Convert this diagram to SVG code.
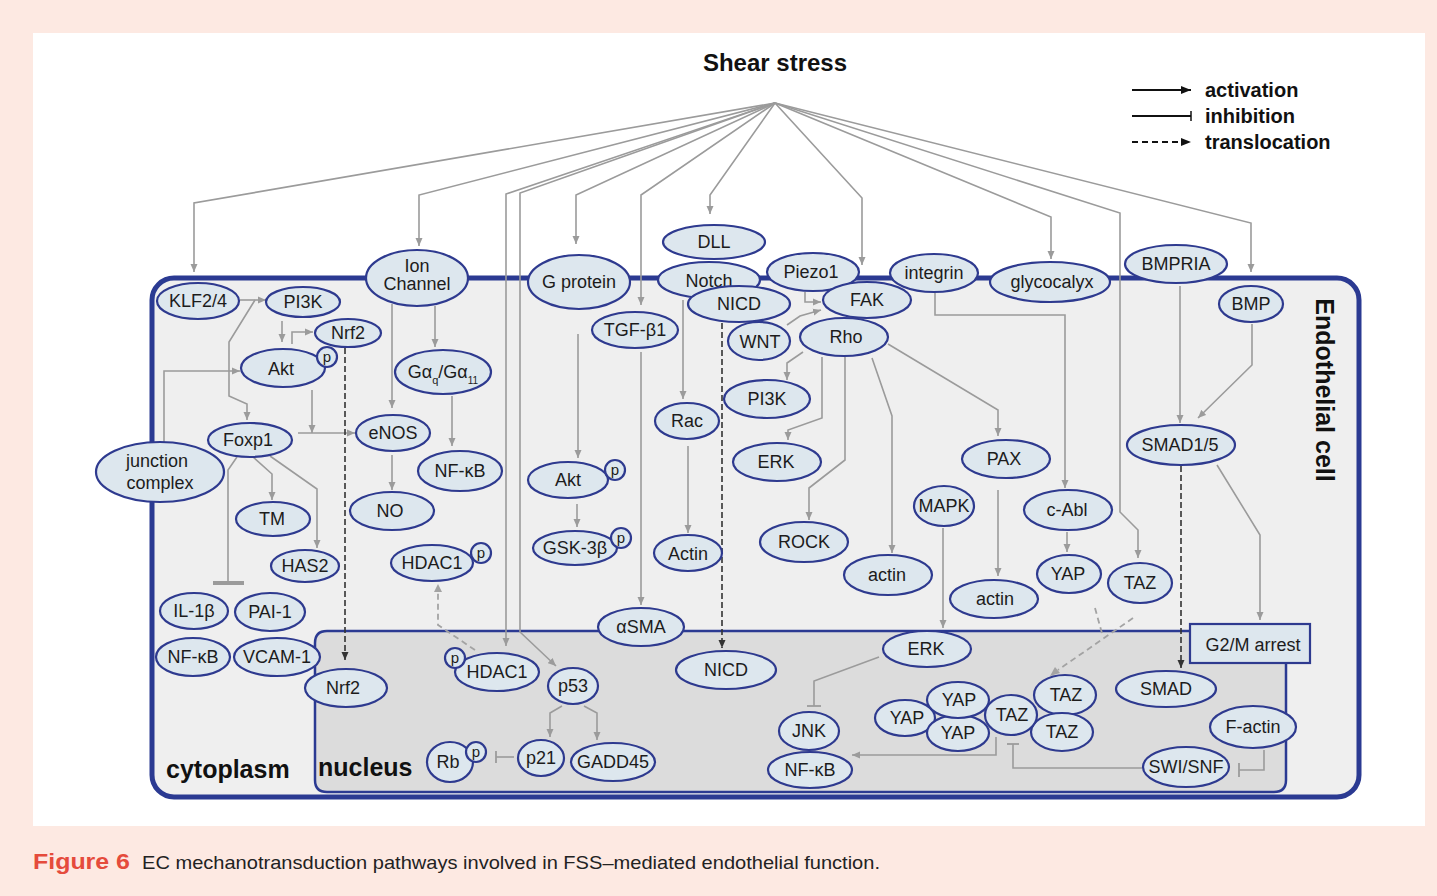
<svg xmlns="http://www.w3.org/2000/svg" width="1437" height="896" viewBox="0 0 1437 896">
<defs>
<style>
.n ellipse, .n circle, .n rect {fill:#dde7ee; stroke:#2e3a8f; stroke-width:2.2}
.n text {font-family:"Liberation Sans", Arial, sans-serif; font-size:18px; fill:#1c1c1c; text-anchor:middle}
.n text.p {font-size:15px}
.c {fill:none; stroke:#9b9b9b; stroke-width:1.6}
.a {marker-end:url(#ah)}
.d {fill:none; stroke:#333; stroke-width:1.6; stroke-dasharray:6 3; marker-end:url(#adk)}
.dg {fill:none; stroke:#a3a3a3; stroke-width:1.8; stroke-dasharray:6 4}
.bar {fill:none; stroke:#9b9b9b; stroke-width:1.8}
.big {font-family:"Liberation Sans", Arial, sans-serif; font-weight:bold; fill:#111}
</style>
<marker id="ah" markerUnits="userSpaceOnUse" markerWidth="9" markerHeight="8" refX="8" refY="4" orient="auto"><path d="M0,0.5 L8,4 L0,7.5 z" fill="#9b9b9b"/></marker>
<marker id="adk" markerUnits="userSpaceOnUse" markerWidth="9" markerHeight="8" refX="8" refY="4" orient="auto"><path d="M0,0.5 L8,4 L0,7.5 z" fill="#333"/></marker>
<marker id="ablk" markerUnits="userSpaceOnUse" markerWidth="11" markerHeight="9" refX="10" refY="4.5" orient="auto"><path d="M0,0.5 L10,4.5 L0,8.5 z" fill="#111"/></marker>
</defs>

<rect x="0" y="0" width="1437" height="896" fill="#fde9e2"/>
<rect x="33" y="33" width="1392" height="793" fill="#ffffff"/>

<!-- cell and nucleus -->
<rect id="cell" x="152" y="278" width="1207" height="519" rx="22" fill="#efefef" stroke="#2b3a92" stroke-width="5"/>
<path id="nucleus" d="M327,631 H1286 V780 Q1286,792 1274,792 H327 Q315,792 315,780 V643 Q315,631 327,631 Z" fill="#dcdcdc" stroke="#2b3a92" stroke-width="2.5"/>

<text class="big" x="775" y="71" font-size="24" text-anchor="middle">Shear stress</text>
<text class="big" x="166" y="778" font-size="25">cytoplasm</text>
<text class="big" x="318" y="776" font-size="25">nucleus</text>
<text class="big" transform="translate(1316,390) rotate(90)" font-size="25" text-anchor="middle">Endothelial cell</text>

<!-- legend -->
<g id="legend">
<line x1="1132" y1="90" x2="1191" y2="90" stroke="#111" stroke-width="1.8" marker-end="url(#ablk)"/>
<line x1="1132" y1="116" x2="1191" y2="116" stroke="#111" stroke-width="1.8"/>
<line x1="1191" y1="111" x2="1191" y2="121" stroke="#111" stroke-width="1.5"/>
<line x1="1132" y1="142" x2="1191" y2="142" stroke="#111" stroke-width="1.8" stroke-dasharray="6 4" marker-end="url(#ablk)"/>
<text class="big" x="1205" y="97" font-size="20">activation</text>
<text class="big" x="1205" y="123" font-size="20">inhibition</text>
<text class="big" x="1205" y="149" font-size="20">translocation</text>
</g>

<!-- connectors -->
<g id="connectors">
<!-- shear stress -->
<path class="c a" d="M775,103 L194,203 V272"/>
<path class="c a" d="M775,103 L419,195 V246"/>
<path class="c a" d="M775,103 L506,194 V646"/>
<path class="c a" d="M775,103 L520,193 V632 L556,666"/>
<path class="c a" d="M775,103 L576,195 V244"/>
<path class="c a" d="M775,103 L641,195 V305"/>
<path class="c a" d="M775,103 L710,195 V214"/>
<path class="c a" d="M775,103 L862,198 V265"/>
<path class="c a" d="M775,103 L1051,217 V259"/>
<path class="c a" d="M775,103 L1120,213 V512 L1138,530 V558"/>
<path class="c a" d="M775,103 L1251,223 V272"/>
<!-- left cytoplasm -->
<path class="c a" d="M240,300 H266"/>
<path class="c a" d="M255,300 L229,342 V396 L247,404 V420"/>
<path class="c a" d="M282,321 V342"/>
<path class="c a" d="M292,344 V332 H313"/>
<path class="c a" d="M164,442 V371 H240"/>
<path class="c a" d="M298,433 H355"/>
<path class="c a" d="M312,390 V433"/>
<path class="c a" d="M392,304 V408"/>
<path class="c a" d="M435,306 V347"/>
<path class="c a" d="M452,396 V446"/>
<path class="c a" d="M392,455 V490"/>
<path class="c a" d="M253,457 L272,474 V500"/>
<path class="c a" d="M270,456 L317,489 V548"/>
<path class="c" d="M237,457 L228,470 V583"/>
<line x1="213" y1="583" x2="244" y2="583" stroke="#9b9b9b" stroke-width="4"/>
<path class="d" d="M345,348 V660"/>
<path class="dg" d="M475,650 L438,625 V592"/>
<path fill="#a3a3a3" d="M434,592 L438,584 L442,592 z"/>
<path class="c a" d="M562,706 L550,713 V737"/>
<path class="c a" d="M584,706 L597,713 V740"/>
<path class="c" d="M514,757 H496"/>
<line class="bar" x1="496" y1="751" x2="496" y2="763"/>
<!-- middle -->
<path class="c a" d="M578,334 V458"/>
<path class="c a" d="M641,352 V605"/>
<path class="c a" d="M577,504 V527"/>
<path class="c a" d="M683,300 V399"/>
<path class="c a" d="M688,446 V533"/>
<path class="d" d="M722,323 V648"/>
<path class="c a" d="M805,292 V302 H821"/>
<path class="c a" d="M787,325 L800,316 L821,310"/>
<path class="c a" d="M803,352 L787,363 V380"/>
<path class="c a" d="M822,357 V418 L788,430 V440"/>
<path class="c a" d="M845,357 V460 L809,488 V520"/>
<path class="c a" d="M872,358 L892,416 V553"/>
<path class="c a" d="M888,344 L998,410 V436"/>
<path class="c a" d="M935,293 V315 H1065 V488"/>
<path class="c a" d="M998,490 V576"/>
<path class="c a" d="M943,528 V628"/>
<path class="c a" d="M1067,532 V552"/>
<path class="dg" d="M1095,608 L1103,637"/>
<path class="dg" d="M1133,618 L1058,670"/>
<path fill="#a3a3a3" d="M1050,676 L1055,667 L1060,673 z"/>
<!-- right -->
<path class="c a" d="M1180,286 V423"/>
<path class="c a" d="M1252,324 V365 L1198,418"/>
<path class="d" d="M1181,466 V668"/>
<path class="c a" d="M1217,465 L1260,535 V620"/>
<!-- nucleus -->
<path class="c" d="M879,657 L814,681 V706"/>
<line class="bar" x1="807" y1="706" x2="821" y2="706"/>
<path class="c a" d="M996,737 V755 H852"/>
<path class="c" d="M1142,768 H1013 V744"/>
<line class="bar" x1="1007" y1="744" x2="1019" y2="744"/>
<path class="c" d="M1264,750 V770 H1239"/>
<line class="bar" x1="1239" y1="763" x2="1239" y2="777"/>
</g>

<!-- nodes -->
<g id="KLF24" class="n"><ellipse cx="198" cy="301" rx="41" ry="18"/><text x="198" y="307">KLF2/4</text></g>
<g id="PI3K-1" class="n"><ellipse cx="303" cy="302" rx="37" ry="15"/><text x="303" y="308">PI3K</text></g>
<g id="Nrf2-1" class="n"><ellipse cx="348" cy="333" rx="33" ry="14"/><text x="348" y="339">Nrf2</text></g>
<g id="Akt-1" class="n"><ellipse cx="283" cy="368" rx="42" ry="19"/><text x="281" y="375">Akt</text><circle cx="327" cy="357" r="10"/><text class="p" x="327" y="362">p</text></g>
<g id="IonChannel" class="n"><ellipse cx="417" cy="278" rx="51" ry="28"/><text x="417" y="272" font-size="17">Ion</text><text x="417" y="290" font-size="17">Channel</text></g>
<g id="Gaq" class="n"><ellipse cx="443" cy="372" rx="48" ry="22"/><text x="443" y="378" font-size="21">Gα<tspan font-size="11" dy="6">q</tspan><tspan dy="-6">/Gα</tspan><tspan font-size="10" dy="6">11</tspan></text></g>
<g id="eNOS" class="n"><ellipse cx="393" cy="433" rx="37" ry="18"/><text x="393" y="439">eNOS</text></g>
<g id="Foxp1" class="n"><ellipse cx="250" cy="440" rx="42" ry="17"/><text x="248" y="446">Foxp1</text></g>
<g id="junction" class="n"><ellipse cx="160" cy="472" rx="64" ry="30"/><text x="157" y="467">junction</text><text x="160" y="489">complex</text></g>
<g id="NFkB-1" class="n"><ellipse cx="460" cy="471" rx="42" ry="20"/><text x="460" y="477">NF-κB</text></g>
<g id="NO" class="n"><ellipse cx="392" cy="511" rx="42" ry="19"/><text x="390" y="517">NO</text></g>
<g id="TM" class="n"><ellipse cx="273" cy="519" rx="37" ry="17"/><text x="272" y="525">TM</text></g>
<g id="HAS2" class="n"><ellipse cx="305" cy="566" rx="34" ry="16"/><text x="305" y="572">HAS2</text></g>
<g id="HDAC1-1" class="n"><ellipse cx="432" cy="563" rx="41" ry="18"/><text x="432" y="569">HDAC1</text><circle cx="481" cy="553" r="10"/><text class="p" x="481" y="558">p</text></g>
<g id="IL1b" class="n"><ellipse cx="194" cy="611" rx="34" ry="18"/><text x="194" y="617">IL-1β</text></g>
<g id="PAI1" class="n"><ellipse cx="270" cy="612" rx="35" ry="19"/><text x="270" y="618">PAI-1</text></g>
<g id="NFkB-2" class="n"><ellipse cx="193" cy="657" rx="37" ry="19"/><text x="193" y="663">NF-κB</text></g>
<g id="VCAM1" class="n"><ellipse cx="277" cy="657" rx="43" ry="19"/><text x="277" y="663">VCAM-1</text></g>
<g id="Nrf2-2" class="n"><ellipse cx="346" cy="688" rx="41" ry="19"/><text x="343" y="694">Nrf2</text></g>
<g id="Gprotein" class="n"><ellipse cx="579" cy="282" rx="51" ry="27"/><text x="579" y="288">G protein</text></g>
<g id="TGFb1" class="n"><ellipse cx="635" cy="330" rx="43" ry="18"/><text x="635" y="336">TGF-β1</text></g>
<g id="Akt-2" class="n"><ellipse cx="568" cy="480" rx="40" ry="18"/><text x="568" y="486">Akt</text><circle cx="615" cy="470" r="10"/><text class="p" x="615" y="475">p</text></g>
<g id="GSK3b" class="n"><ellipse cx="575" cy="548" rx="42" ry="17"/><text x="575" y="554">GSK-3β</text><circle cx="621" cy="538" r="10"/><text class="p" x="621" y="543">p</text></g>
<g id="aSMA" class="n"><ellipse cx="641" cy="627" rx="43" ry="19"/><text x="641" y="633">αSMA</text></g>
<g id="HDAC1-2" class="n"><ellipse cx="497" cy="672" rx="42" ry="19"/><text x="497" y="678">HDAC1</text><circle cx="455" cy="658" r="10"/><text class="p" x="455" y="663">p</text></g>
<g id="p53" class="n"><ellipse cx="573" cy="686" rx="25" ry="18"/><text x="573" y="692">p53</text></g>
<g id="p21" class="n"><ellipse cx="541" cy="758" rx="23" ry="18"/><text x="541" y="764">p21</text></g>
<g id="GADD45" class="n"><ellipse cx="613" cy="762" rx="42" ry="19"/><text x="613" y="768">GADD45</text></g>
<g id="Rb" class="n"><ellipse cx="450" cy="762" rx="23" ry="20"/><text x="448" y="768">Rb</text><circle cx="476" cy="752" r="10"/><text class="p" x="476" y="757">p</text></g>
<g id="DLL" class="n"><ellipse cx="714" cy="242" rx="51" ry="17"/><text x="714" y="248">DLL</text></g>
<g id="Notch" class="n"><ellipse cx="709" cy="280" rx="51" ry="18"/><text x="709" y="287">Notch</text></g>
<g id="NICD-1" class="n"><ellipse cx="739" cy="304" rx="51" ry="18"/><text x="739" y="310">NICD</text></g>
<g id="Piezo1" class="n"><ellipse cx="813" cy="272" rx="46" ry="19"/><text x="811" y="278">Piezo1</text></g>
<g id="FAK" class="n"><ellipse cx="867" cy="300" rx="44" ry="18"/><text x="867" y="306">FAK</text></g>
<g id="integrin" class="n"><ellipse cx="934" cy="273" rx="44" ry="19"/><text x="934" y="279">integrin</text></g>
<g id="glycocalyx" class="n"><ellipse cx="1050" cy="282" rx="60" ry="20"/><text x="1052" y="288">glycocalyx</text></g>
<g id="BMPRIA" class="n"><ellipse cx="1176" cy="264" rx="51" ry="19"/><text x="1176" y="270">BMPRIA</text></g>
<g id="BMP" class="n"><ellipse cx="1251" cy="304" rx="32" ry="18"/><text x="1251" y="310">BMP</text></g>
<g id="WNT" class="n"><ellipse cx="759" cy="341" rx="31" ry="19"/><text x="760" y="348">WNT</text></g>
<g id="Rho" class="n"><ellipse cx="844" cy="337" rx="44" ry="19"/><text x="846" y="343">Rho</text></g>
<g id="PI3K-2" class="n"><ellipse cx="767" cy="399" rx="43" ry="19"/><text x="767" y="405">PI3K</text></g>
<g id="Rac" class="n"><ellipse cx="687" cy="421" rx="32" ry="18"/><text x="687" y="427">Rac</text></g>
<g id="ERK-1" class="n"><ellipse cx="777" cy="462" rx="44" ry="19"/><text x="776" y="468">ERK</text></g>
<g id="Actin-1" class="n"><ellipse cx="688" cy="553" rx="34" ry="18"/><text x="688" y="560">Actin</text></g>
<g id="ROCK" class="n"><ellipse cx="804" cy="542" rx="44" ry="20"/><text x="804" y="548">ROCK</text></g>
<g id="actin-2" class="n"><ellipse cx="888" cy="575" rx="44" ry="20"/><text x="887" y="581">actin</text></g>
<g id="MAPK" class="n"><ellipse cx="944" cy="506" rx="30" ry="20"/><text x="944" y="512" font-size="17.5">MAPK</text></g>
<g id="PAX" class="n"><ellipse cx="1006" cy="459" rx="44" ry="19"/><text x="1004" y="465">PAX</text></g>
<g id="cAbl" class="n"><ellipse cx="1068" cy="510" rx="44" ry="20"/><text x="1067" y="516">c-Abl</text></g>
<g id="actin-3" class="n"><ellipse cx="994" cy="599" rx="44" ry="19"/><text x="995" y="605">actin</text></g>
<g id="YAP-c" class="n"><ellipse cx="1069" cy="574" rx="32" ry="19"/><text x="1068" y="580">YAP</text></g>
<g id="TAZ-c" class="n"><ellipse cx="1140" cy="583" rx="32" ry="20"/><text x="1140" y="589">TAZ</text></g>
<g id="SMAD15" class="n"><ellipse cx="1181" cy="445" rx="54" ry="20"/><text x="1180" y="451">SMAD1/5</text></g>
<g id="G2M" class="n"><rect x="1190" y="624" width="120" height="39"/><text x="1253" y="651">G2/M arrest</text></g>
<g id="NICD-2" class="n"><ellipse cx="726" cy="670" rx="50" ry="19"/><text x="726" y="676">NICD</text></g>
<g id="ERK-2" class="n"><ellipse cx="927" cy="649" rx="44" ry="18"/><text x="926" y="655">ERK</text></g>
<g id="JNK" class="n"><ellipse cx="809" cy="731" rx="30" ry="19"/><text x="809" y="737">JNK</text></g>
<g id="NFkB-3" class="n"><ellipse cx="810" cy="770" rx="42" ry="18"/><text x="810" y="776">NF-κB</text></g>
<g id="YAP-L" class="n"><ellipse cx="905" cy="718" rx="30" ry="18"/><text x="907" y="724">YAP</text></g>
<g id="YAP-B" class="n"><ellipse cx="958" cy="733" rx="31" ry="18"/><text x="958" y="739">YAP</text></g>
<g id="YAP-T" class="n"><ellipse cx="958" cy="700" rx="31" ry="18"/><text x="959" y="706">YAP</text></g>
<g id="TAZ-TR" class="n"><ellipse cx="1065" cy="695" rx="31" ry="20"/><text x="1066" y="701">TAZ</text></g>
<g id="TAZ-BR" class="n"><ellipse cx="1062" cy="732" rx="31" ry="19"/><text x="1062" y="738">TAZ</text></g>
<g id="TAZ-M" class="n"><ellipse cx="1011" cy="715" rx="26" ry="20"/><text x="1012" y="721">TAZ</text></g>
<g id="SMAD" class="n"><ellipse cx="1166" cy="689" rx="50" ry="18"/><text x="1166" y="695">SMAD</text></g>
<g id="Factin" class="n"><ellipse cx="1253" cy="727" rx="43" ry="21"/><text x="1253" y="733">F-actin</text></g>
<g id="SWISNF" class="n"><ellipse cx="1186" cy="767" rx="43" ry="20"/><text x="1186" y="773">SWI/SNF</text></g>

<!-- caption -->
<text x="33" y="869" font-family="'Liberation Sans', Arial, sans-serif" font-size="22" font-weight="bold" fill="#e54b3c" textLength="97" lengthAdjust="spacingAndGlyphs">Figure 6</text>
<text x="142" y="869" font-family="'Liberation Sans', Arial, sans-serif" font-size="19" fill="#222" textLength="738" lengthAdjust="spacingAndGlyphs">EC mechanotransduction pathways involved in FSS–mediated endothelial function.</text>
</svg>
